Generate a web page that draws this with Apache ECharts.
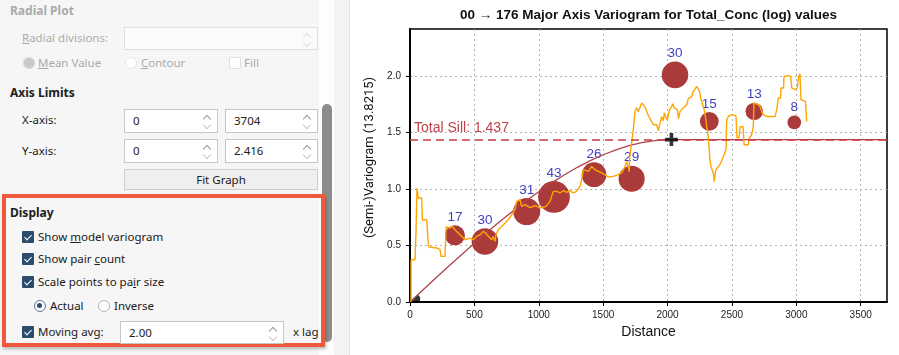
<!DOCTYPE html>
<html><head><meta charset="utf-8">
<script src="https://cdn.jsdelivr.net/npm/echarts@6/dist/echarts.min.js"></script>
<style>
html,body{margin:0;padding:0;width:899px;height:355px;overflow:hidden;background:#fff;font-family:"Noto Sans",sans-serif;}
#panel{position:absolute;left:0;top:0;width:319px;height:355px;background:#f6f6f6;}
#track{position:absolute;left:319px;top:0;width:15px;height:355px;background:#fdfdfd;}
#thumb{position:absolute;left:322px;top:104px;width:10px;height:238px;background:#8c8c8c;border-radius:5px;}
#gutter{position:absolute;left:334px;top:0;width:15px;height:355px;background:#f3f3f3;border-right:1px solid #e2e2e2;}
.t{position:absolute;font-size:11.5px;line-height:16px;height:16px;color:#202020;white-space:nowrap;}
.b{font-weight:bold;font-size:12px;}
.dis{color:#aaaaaa;}
.box{position:absolute;background:#fff;border:1px solid #c6c6c6;box-sizing:border-box;}
.box.d{border-color:#e0e0e0;background:#fbfbfb;}
.box .v{position:absolute;left:8px;top:3px;font-size:11.5px;line-height:16px;color:#202020;}
.up,.dn{position:absolute;right:7px;width:5px;height:5px;border-left:1px solid #9a9a9a;border-top:1px solid #9a9a9a;}
.up{top:6px;transform:rotate(45deg);}
.dn{top:12px;transform:rotate(225deg);border-color:#c8c8c8;}
.box.d .up,.box.d .dn{border-color:#e0e0e0;}
.chk{position:absolute;width:12px;height:12px;background:#2d4b6c;border-radius:1px;}
.chk::after{content:"";position:absolute;left:4px;top:1.5px;width:3px;height:6px;border:solid #fff;border-width:0 1.5px 1.5px 0;transform:rotate(45deg);}
.chk.e{background:#fff;border:1px solid #e0e0e0;box-sizing:border-box;}
.chk.e::after{display:none;}
.rad{position:absolute;width:12px;height:12px;border-radius:50%;box-sizing:border-box;background:#fff;border:1px solid #b5b5b5;}
.rad.on{border:1.5px solid #5b7390;}
.rad.on::after{content:"";position:absolute;left:2px;top:2px;width:5px;height:5px;border-radius:50%;background:#2d4b6c;}
.rad.dison{background:#c9c9c9;border:1px solid #d8d8d8;}
.rad.disoff{border:1px solid #e6e6e6;}
.btn{position:absolute;background:#efefef;border:1px solid #cfcfcf;box-sizing:border-box;text-align:center;font-size:11.5px;line-height:19px;color:#202020;}
#redbox{position:absolute;left:2px;top:194px;width:323px;height:153px;border:4px solid #ef5a3c;box-sizing:border-box;box-shadow:1px 2px 3px rgba(0,0,0,0.25);}
#chart{position:absolute;left:350px;top:0;width:597px;height:355px;}
</style></head><body>
<div id="panel"></div>
<div id="track"></div>
<div id="thumb"></div>
<div id="gutter"></div>

<div class="t b dis" style="left:10px;top:3px">Radial Plot</div>
<div class="t dis" style="left:22px;top:30px"><u>R</u>adial divisions:</div>
<div class="box d" style="left:124px;top:27px;width:194px;height:23px"><span class="up"></span><span class="dn"></span></div>
<div class="rad dison" style="left:23px;top:57px"></div>
<div class="t dis" style="left:38px;top:55px"><u>M</u>ean Value</div>
<div class="rad disoff" style="left:125px;top:57px"></div>
<div class="t dis" style="left:141px;top:55px"><u>C</u>ontour</div>
<div class="chk e" style="left:229px;top:57px"></div>
<div class="t dis" style="left:244px;top:55px">Fill</div>

<div class="t b" style="left:10px;top:85px">Axis Limits</div>
<div class="t" style="left:22px;top:112px">X-axis:</div>
<div class="box" style="left:124px;top:109px;width:94px;height:24px"><span class="v">0</span><span class="up"></span><span class="dn"></span></div>
<div class="box" style="left:225px;top:109px;width:93px;height:24px"><span class="v">3704</span><span class="up"></span><span class="dn"></span></div>
<div class="t" style="left:22px;top:143px">Y-axis:</div>
<div class="box" style="left:124px;top:139px;width:94px;height:24px"><span class="v">0</span><span class="up"></span><span class="dn"></span></div>
<div class="box" style="left:225px;top:139px;width:93px;height:24px"><span class="v">2.416</span><span class="up"></span><span class="dn"></span></div>
<div class="btn" style="left:124px;top:169px;width:194px;height:21px">Fit Graph</div>

<div id="redbox"></div>
<div class="t b" style="left:10px;top:205px">Display</div>
<div class="chk" style="left:22px;top:231px"></div>
<div class="t" style="left:38px;top:229px">Show <u>m</u>odel variogram</div>
<div class="chk" style="left:22px;top:253px"></div>
<div class="t" style="left:38px;top:251px">Show pair <u>c</u>ount</div>
<div class="chk" style="left:22px;top:276px"></div>
<div class="t" style="left:38px;top:274px">Scale points to pa<u>i</u>r size</div>
<div class="rad on" style="left:34px;top:300px"></div>
<div class="t" style="left:50px;top:298px">Actual</div>
<div class="rad" style="left:98px;top:300px"></div>
<div class="t" style="left:114px;top:298px">Inverse</div>
<div class="chk" style="left:22px;top:326px"></div>
<div class="t" style="left:38px;top:324px">Moving avg:</div>
<div class="box" style="left:120px;top:321px;width:164px;height:23px"><span class="v">2.00</span><span class="up"></span><span class="dn"></span></div>
<div class="t" style="left:293px;top:324px">x lag</div>

<div id="chart"></div>
<script>
// ---- data ----
const chartTitle = '00 \u2192 176 Major Axis Variogram for Total_Conc (log) values';
const xAxisName = 'Distance';
const yAxisName = '(Semi-)Variogram (13.8215)';
const xMax = 3704;
const yMax = 2.416;
const xTicks = [0, 500, 1000, 1500, 2000, 2500, 3000, 3500];
const yTicks = [0, 0.5, 1.0, 1.5, 2.0];

const lagDist = [349, 582, 906, 1118, 1429, 1721, 2058, 2324, 2673, 2984];
const lagGamma = [0.59, 0.536, 0.80, 0.93, 1.127, 1.091, 2.01, 1.598, 1.687, 1.589];
const pairCounts = [17, 30, 31, 43, 26, 29, 30, 15, 13, 8];

const avgDist = [8, 8, 39, 47, 54, 64, 91, 96, 130, 142, 148, 207, 233, 241, 272, 280, 311, 328, 342, 349,
  375, 401, 427, 466, 492, 518, 544, 569, 588, 608, 621, 634, 647, 660, 668, 686, 712, 738, 763, 790,
  815, 829, 854, 867, 893, 932, 971, 1009, 1056, 1087, 1100, 1113, 1139, 1165, 1190, 1217, 1242, 1268, 1294, 1307,
  1320, 1333, 1346, 1359, 1385, 1411, 1437, 1462, 1489, 1514, 1540, 1579, 1618, 1644, 1670, 1683, 1696, 1703, 1705, 1721,
  1734, 1747, 1760, 1773, 1786, 1799, 1812, 1825, 1838, 1851, 1864, 1890, 1903, 1916, 1928, 1936, 1954, 1967, 1975, 1988,
  1998, 2013, 2032, 2040, 2052, 2066, 2076, 2085, 2097, 2122, 2149, 2161, 2187, 2198, 2213, 2226, 2239, 2248, 2260, 2273,
  2283, 2293, 2304, 2314, 2322, 2329, 2337, 2347, 2355, 2363, 2374, 2386, 2400, 2413, 2433, 2454, 2459, 2472, 2498, 2511,
  2531, 2539, 2555, 2563, 2586, 2594, 2627, 2635, 2644, 2653, 2666, 2671, 2679, 2705, 2718, 2731, 2744, 2770, 2834, 2848,
  2860, 2877, 2881, 2901, 2904, 2938, 2956, 2964, 2990, 3007, 3018, 3028, 3036, 3049, 3071, 3075, 3080];
const avgGamma = [0.0, 0.374, 0.374, 0.625, 1.009, 0.92, 0.92, 0.728, 0.728, 0.507, 0.487, 0.478, 0.463, 0.404, 0.404, 0.664, 0.655, 0.669, 0.684, 0.64,
  0.611, 0.581, 0.551, 0.566, 0.551, 0.581, 0.596, 0.625, 0.611, 0.581, 0.596, 0.551, 0.581, 0.536, 0.596, 0.64, 0.669, 0.699, 0.728, 0.773,
  0.817, 0.89, 0.905, 0.846, 0.861, 0.835, 0.852, 0.832, 0.846, 0.89, 0.935, 0.979, 0.979, 0.965, 0.985, 0.97, 0.985, 0.965, 0.979, 0.994,
  1.023, 1.082, 1.171, 1.186, 1.156, 1.2, 1.171, 1.156, 1.142, 1.127, 1.106, 1.112, 1.127, 1.142, 1.2, 1.244, 1.259, 1.153, 1.274, 1.407,
  1.524, 1.684, 1.719, 1.684, 1.69, 1.761, 1.755, 1.728, 1.719, 1.649, 1.622, 1.569, 1.554, 1.569, 1.516, 1.51, 1.64, 1.604, 1.673, 1.631,
  1.613, 1.693, 1.731, 1.755, 1.717, 1.719, 1.702, 1.622, 1.687, 1.719, 1.746, 1.799, 1.817, 1.861, 1.883, 1.908, 1.892, 1.864, 1.79, 1.746,
  1.711, 1.649, 1.554, 1.481, 1.377, 1.259, 1.2, 1.197, 1.142, 1.065, 1.171, 1.186, 1.205, 1.23, 1.288, 1.348, 1.613, 1.642, 1.658, 1.642,
  1.649, 1.454, 1.454, 1.551, 1.551, 1.392, 1.392, 1.451, 1.436, 1.481, 1.554, 1.761, 1.746, 1.746, 1.728, 1.687, 1.658, 1.642, 1.642, 1.702,
  1.805, 1.805, 1.894, 1.894, 1.996, 2.003, 1.996, 1.894, 1.879, 1.894, 1.996, 2.02, 1.79, 1.775, 1.775, 1.702, 1.598];

const modelDist = [0, 100, 200, 300, 400, 500, 600, 700, 800, 900, 1000, 1100, 1200, 1300, 1400, 1500, 1600, 1700, 1800, 1900, 2000, 2030, 3704];
const modelGamma = [0, 0.106, 0.212, 0.316, 0.419, 0.520, 0.619, 0.714, 0.806, 0.893, 0.976, 1.054, 1.126, 1.192, 1.251, 1.303, 1.347, 1.383, 1.410, 1.428, 1.437, 1.437, 1.437];

const totalSill = 1.437;
const rangePoint = [2030, 1.437];
const originPoint = [43, 0.03];

// ---- chart ----
const chart = echarts.init(document.getElementById('chart'), null, {renderer: 'canvas'});
const F = 'Liberation Sans, Arial, sans-serif';
const zipPairs = (a, b) => a.map((x, i) => [x, b[i]]);

chart.setOption({
  animation: false,
  backgroundColor: '#fff',
  title: {
    text: chartTitle, left: 'center', top: 8, padding: 0,
    textStyle: {fontFamily: F, fontSize: 13.5, fontWeight: 'bold', color: '#111'}
  },
  grid: {left: 60, right: 60, top: 29, bottom: 53, show: true, borderColor: '#000', borderWidth: 1.5, containLabel: false},
  xAxis: {
    type: 'value', min: 0, max: xMax, interval: 500,
    name: xAxisName, nameLocation: 'middle', nameGap: 21,
    nameTextStyle: {fontFamily: F, fontSize: 14, color: '#111'},
    axisLine: {show: true, onZero: false, lineStyle: {color: '#000', width: 2}},
    axisTick: {show: true, length: 4, customValues: xTicks, lineStyle: {color: '#000'}},
    axisLabel: {customValues: xTicks, fontFamily: F, fontSize: 10, color: '#222', margin: 8, formatter: v => String(v)},
    splitLine: {show: true, lineStyle: {color: '#b4b4b4', type: [2, 3], width: 1}}
  },
  yAxis: {
    type: 'value', min: 0, max: yMax, interval: 0.5,
    name: yAxisName, nameLocation: 'middle', nameGap: 31,
    nameTextStyle: {fontFamily: 'Roboto, Liberation Sans, sans-serif', fontSize: 13, color: '#111', padding: [0, 0, 0, 16]},
    axisLine: {show: true, onZero: false, lineStyle: {color: '#000', width: 2}},
    axisTick: {show: true, length: 4, customValues: yTicks, lineStyle: {color: '#000'}},
    axisLabel: {customValues: yTicks, fontFamily: F, fontSize: 10, color: '#222', margin: 9, formatter: v => v.toFixed(1)},
    splitLine: {show: true, lineStyle: {color: '#b4b4b4', type: [2, 3], width: 1}}
  },
  series: [
    {
      type: 'scatter', name: 'lags', z: 2,
      data: lagDist.map((d, i) => [d, lagGamma[i], pairCounts[i]]),
      symbolSize: v => 4.85 * Math.sqrt(v[2]),
      itemStyle: {color: '#ab3a3a', opacity: 1},
      label: {show: true, position: 'top', distance: 1, formatter: p => String(p.value[2]),
        fontFamily: F, fontSize: 13.5, color: '#4040c0'}
    },
    {
      type: 'line', name: 'model', z: 3,
      data: zipPairs(modelDist, modelGamma),
      showSymbol: false, symbol: 'none',
      lineStyle: {color: '#b0414a', width: 1.3},
      markLine: {
        silent: true, symbol: ['none', 'none'],
        lineStyle: {color: '#c83a40', width: 1.5, type: [8, 5]},
        label: {show: true, position: 'insideStartTop', formatter: 'Total Sill: ' + totalSill,
          fontFamily: F, fontSize: 14, color: '#c0404a', distance: 4},
        data: [{yAxis: totalSill}]
      }
    },
    {
      type: 'line', name: 'moving avg', z: 4,
      data: zipPairs(avgDist, avgGamma),
      showSymbol: false, symbol: 'none',
      lineStyle: {color: '#ffa500', width: 1.4}
    },
    {
      type: 'scatter', name: 'range', z: 5,
      data: [rangePoint],
      symbol: 'path://M3.6,0 H6.4 V3.6 H10 V6.4 H6.4 V10 H3.6 V6.4 H0 V3.6 H3.6 Z',
      symbolSize: 13,
      itemStyle: {color: '#000'}
    },
    {
      type: 'scatter', name: 'origin', z: 5,
      data: [originPoint],
      symbol: 'path://M0,10 L8,0 L10,3 L10,10 Z',
      symbolSize: [9, 7],
      itemStyle: {color: '#000'}
    }
  ]
});
</script>
</body></html>
